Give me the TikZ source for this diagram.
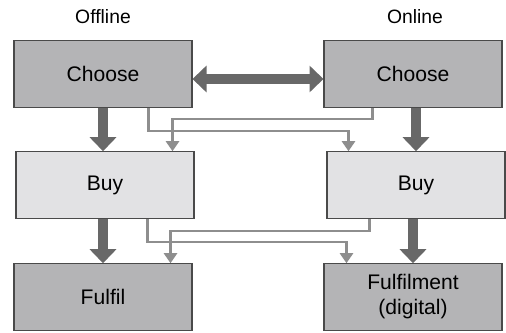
\documentclass[tikz,border=0pt]{standalone}
\usepackage{fontspec}
\setmainfont{Liberation Sans}
\usetikzlibrary{arrows.meta,positioning}
\definecolor{darkbox}{HTML}{B4B4B6}
\definecolor{lightbox}{HTML}{E2E2E4}
\definecolor{edge}{HTML}{4A4A4A}
\definecolor{bigarrow}{HTML}{686868}
\definecolor{linkgray}{HTML}{8E8E8E}

\begin{document}
\begin{tikzpicture}[x=0.02cm,y=0.02cm]
\tikzstyle{every node}=[font=\fontsize{12}{14.2}\selectfont]
\tikzstyle{stage}=[draw=edge, line width=0.6pt, minimum width=3.56cm, minimum height=1.33cm, align=center, inner sep=0pt]
\tikzstyle{dark}=[stage, fill=darkbox]
\tikzstyle{light}=[stage, fill=lightbox]
\tikzstyle{flow}=[draw=bigarrow, line width=0.2cm, -{Triangle[length=0.28cm,width=0.52cm]}]
\tikzstyle{link}=[draw=linkgray, line width=1.4pt, -{Triangle[length=0.2cm,width=0.26cm]}]
\useasboundingbox (0,0) rectangle (506,332);
% columns
\node (off) at (103,315) {\fontsize{11}{13}\selectfont Offline};
\node (on) at (415,315) {\fontsize{11}{13}\selectfont Online};
\node[dark] (chL) at (103,258) {Choose};
\node[dark] (chR) at (413,258) {Choose};
\node[light] (buyL) at (105,147) {Buy};
\node[light] (buyR) at (416,147) {Buy};
\node[dark] (fulL) at (103,35) {Fulfil};
\node[dark] (fulR) at (413,35) {Fulfilment\\(digital)};
% thick arrows
\draw[flow, {Triangle[length=0.28cm,width=0.52cm]}-{Triangle[length=0.28cm,width=0.52cm]}] ([yshift=-0.1cm]chL.east) -- ([yshift=-0.1cm]chR.west);
\draw[flow] (chL.south) -- (chL.south |- buyL.north);
\draw[flow] (buyR.north |- chR.south) -- (buyR.north);
\draw[flow] (buyL.south -| fulL.north) -- (fulL.north);
\draw[flow] (fulR.north |- buyR.south) -- (fulR.north);
% cross links
\draw[link] ([shift={(-44,0)}]chL.south east) -- ++(0,-23) -| ([shift={(22,0)}]buyR.north west);
\draw[link] ([shift={(49,0)}]chR.south west) -- ++(0,-11) -| ([shift={(-22,0)}]buyL.north east);
\draw[link] ([shift={(-47,0)}]buyL.south east) -- ++(0,-23) -| ([shift={(23,0)}]fulR.north west);
\draw[link] ([shift={(43,0)}]buyR.south west) -- ++(0,-12) -| ([shift={(-22,0)}]fulL.north east);
\end{tikzpicture}
\end{document}
